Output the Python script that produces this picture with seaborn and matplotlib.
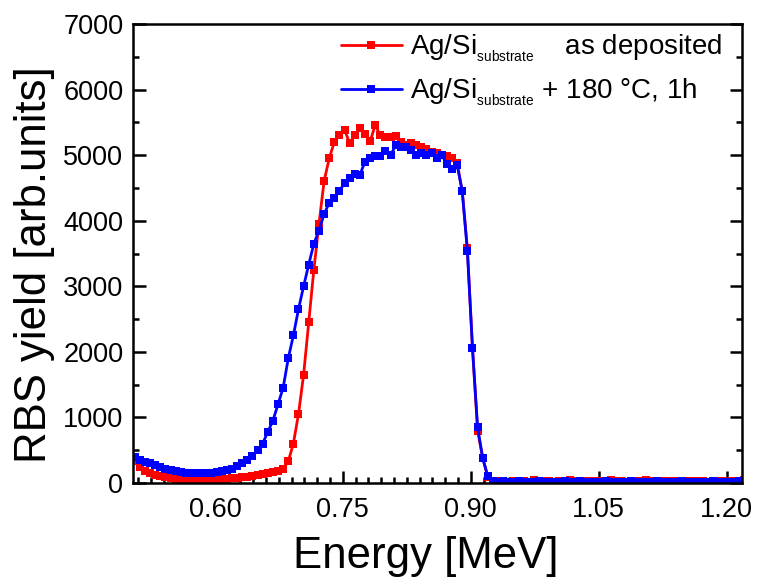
import numpy as np
import pandas as pd
import matplotlib
matplotlib.use("Agg")
import matplotlib.pyplot as plt
from matplotlib.ticker import MultipleLocator, FormatStrFormatter
import seaborn as sns

# Energy channels [MeV]
e_start = 0.500
e_step = 0.006
n_ch = 121

labels = ["Ag/Si$_{_{\\mathrm{substrate}}}$    as deposited",
          "Ag/Si$_{_{\\mathrm{substrate}}}$ + 180 \u00b0C, 1h"]

as_deposited = [
    650, 330, 250, 190, 150, 120, 100, 85, 75, 65,
    60, 55, 55, 52, 50, 52, 55, 55, 60, 62,
    70, 75, 85, 95, 110, 125, 135, 150, 165, 185,
    212, 330, 600, 1050, 1650, 2450, 3250, 3950, 4600, 4950,
    5200, 5300, 5390, 5180, 5300, 5420, 5320, 5210, 5460, 5300,
    5280, 5270, 5290, 5200, 5160, 5180, 5150, 5130, 5100, 5050,
    5030, 5000, 4980, 4950, 4880, 4450, 3580, 2060, 800, 380,
    90, 30, 25, 30, 20, 35, 25, 30, 20, 40,
    25, 30, 35, 20, 25, 30, 40, 25, 20, 30,
    35, 25, 30, 20, 40, 30, 25, 20, 35, 30,
    25, 40, 30, 20, 25, 35, 30, 25, 20, 30,
    35, 25, 30, 20, 25, 35, 30, 20, 25, 30,
    40,
]

annealed = [
    460, 400, 350, 320, 300, 270, 250, 220, 200, 180,
    165, 150, 145, 150, 145, 150, 155, 165, 180, 200,
    220, 255, 300, 350, 410, 500, 600, 780, 950, 1200,
    1450, 1900, 2250, 2650, 3000, 3330, 3650, 3850, 4100, 4270,
    4350, 4450, 4580, 4650, 4720, 4700, 4900, 4950, 4980, 4990,
    5060, 5000, 5150, 5120, 5130, 5080, 5010, 5030, 5010, 5030,
    4950, 5000, 4860, 4790, 4850, 4450, 3540, 2060, 850, 380,
    100, 35, 20, 25, 20, 20, 25, 20, 15, 20,
    25, 20, 20, 15, 20, 25, 20, 20, 25, 20,
    15, 20, 20, 25, 20, 20, 15, 20, 25, 20,
    20, 15, 20, 25, 20, 20, 15, 20, 25, 20,
    20, 15, 20, 20, 25, 20, 15, 20, 20, 25,
    20,
]

energy = np.round(e_start + e_step * np.arange(n_ch), 3)

df = pd.DataFrame({
    "Energy": np.concatenate([energy, energy]),
    "Yield": np.concatenate([as_deposited, annealed]),
    "Sample": [labels[0]] * n_ch + [labels[1]] * n_ch,
})

sns.set_style("ticks")
plt.rcParams["font.family"] = ["Liberation Sans", "DejaVu Sans"]
plt.rcParams["mathtext.fontset"] = "custom"
plt.rcParams["mathtext.rm"] = "Liberation Sans"
plt.rcParams["mathtext.it"] = "Liberation Sans:italic"
plt.rcParams["mathtext.bf"] = "Liberation Sans:bold"
plt.rcParams["text.color"] = "black"
plt.rcParams["axes.labelcolor"] = "black"

fig = plt.figure(figsize=(7.57, 5.79), dpi=100)
ax = fig.add_axes([0.1757, 0.1658, 0.8045, 0.7927])

sns.lineplot(data=df, x="Energy", y="Yield", hue="Sample",
             palette={labels[0]: "#ff0000", labels[1]: "#0000ff"},
             marker="s", markersize=6, markeredgewidth=0,
             linewidth=2, ax=ax, sort=False)

ax.set_xlim(0.504, 1.218)
ax.set_ylim(0, 7000)
ax.xaxis.set_major_locator(MultipleLocator(0.15))
ax.xaxis.set_minor_locator(MultipleLocator(0.015))
ax.yaxis.set_major_locator(MultipleLocator(1000))
ax.yaxis.set_minor_locator(MultipleLocator(500))
ax.xaxis.set_major_formatter(FormatStrFormatter("%.2f"))

ax.tick_params(which="both", direction="in", right=True, top=False,
               labelsize=19.5, width=1.8, colors="black")
ax.tick_params(which="major", length=9)
ax.tick_params(which="minor", length=4.5)
ax.tick_params(axis="x", which="major", pad=10)
ax.tick_params(axis="y", which="major", pad=7)
for s in ax.spines.values():
    s.set_linewidth(1.8)
    s.set_color("black")

ax.set_xlabel("Energy [MeV]", fontsize=31.5)
ax.set_ylabel("RBS yield [arb.units]", fontsize=31.5)
ax.xaxis.set_label_coords(0.48, -0.115)
ax.yaxis.set_label_coords(-0.128, 0.475)

handles, _ = ax.get_legend_handles_labels()
ax.legend(handles=handles, labels=labels, loc="upper right",
          bbox_to_anchor=(0.995, 1.018), frameon=False, fontsize=20,
          handlelength=2.2, handletextpad=0.3, labelspacing=0.45,
          borderaxespad=0.2)

fig.savefig("out.png", dpi=100)
